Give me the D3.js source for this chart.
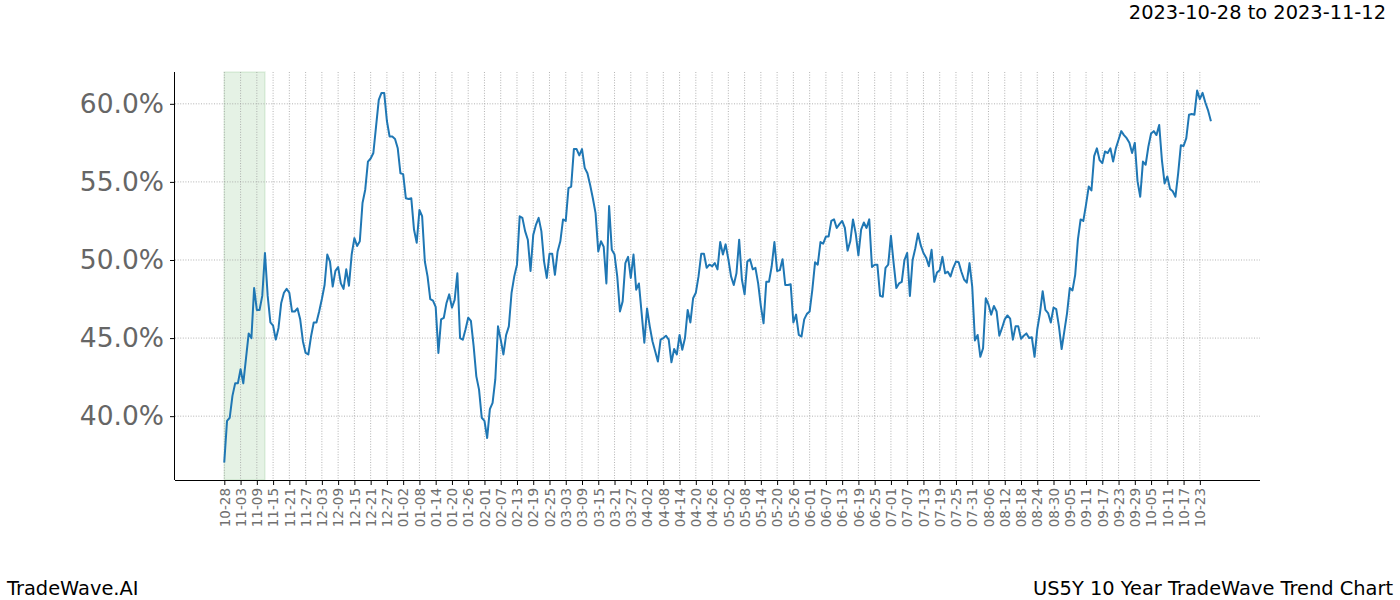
<!DOCTYPE html>
<html>
<head>
<meta charset="utf-8">
<script src="https://cdn.jsdelivr.net/npm/d3@7"></script>
<style>
  html, body { margin: 0; padding: 0; background: #fff; }
  svg { display: block; font-family: "DejaVu Sans", sans-serif; }
</style>
</head>
<body>
<svg id="chart" width="1400" height="600"></svg>
<script>
// ---- data ----
const startDate = "2022-10-28";
const values = [
  37.1, 39.7, 39.9, 41.3, 42.1, 42.1, 43.0, 42.1, 43.7, 45.3,
  45.0, 48.2, 46.8, 46.8, 47.7, 50.45, 47.7, 46.0, 45.8, 44.9,
  45.65, 47.25, 47.9, 48.15, 47.9, 46.7, 46.7, 46.9, 46.2, 44.8,
  44.05, 43.95, 45.1, 46.0, 46.0, 46.7, 47.5, 48.4, 50.35, 49.9,
  48.3, 49.3, 49.55, 48.5, 48.15, 49.4, 48.35, 50.35, 51.4, 50.9,
  51.2, 53.65, 54.5, 56.3, 56.5, 56.85, 58.55, 60.25, 60.7, 60.7,
  58.9, 57.9, 57.9, 57.75, 57.15, 55.55, 55.5, 53.95, 53.9, 53.95,
  51.95, 51.1, 53.2, 52.8, 49.9, 48.95, 47.5, 47.4, 47.0, 44.05,
  46.2, 46.3, 47.25, 47.8, 46.95, 47.45, 49.15, 45.0, 44.9, 45.55,
  46.3, 46.1, 44.5, 42.55, 41.7, 39.9, 39.7, 38.6, 40.45, 40.85,
  42.35, 45.75, 44.9, 43.95, 45.2, 45.75, 47.9, 48.95, 49.7, 52.8,
  52.7, 51.85, 51.3, 49.3, 51.6, 52.25, 52.7, 51.85, 49.9, 48.85,
  50.4, 50.4, 49.05, 50.55, 51.2, 52.6, 52.5, 54.6, 54.7, 57.1,
  57.1, 56.7, 57.1, 55.9, 55.55, 54.8, 53.95, 53.0, 50.55, 51.2,
  50.85, 48.5, 53.45, 50.65, 50.35, 48.95, 46.7, 47.35, 49.8, 50.2,
  48.85, 50.35, 48.1, 48.5, 46.6, 44.7, 46.9, 45.75, 44.8, 44.15,
  43.5, 44.9, 45.0, 45.15, 44.9, 43.45, 44.3, 43.95, 45.2, 44.25,
  45.0, 46.8, 46.0, 47.55, 47.9, 48.95, 50.4, 50.4, 49.5, 49.7,
  49.6, 49.8, 49.4, 51.15, 50.35, 51.0, 50.05, 48.95, 48.4, 49.15,
  51.3, 48.75, 47.8, 49.9, 50.05, 49.4, 49.5, 48.5, 47.05, 45.95,
  48.6, 48.6, 49.6, 51.15, 49.3, 49.35, 50.05, 48.4, 48.4, 48.45,
  46.0, 46.5, 45.2, 45.1, 46.2, 46.55, 46.7, 48.1, 49.85, 49.7,
  51.15, 51.05, 51.5, 51.5, 52.5, 52.6, 52.05, 52.3, 52.5, 52.05,
  50.6, 51.2, 52.6, 51.7, 50.3, 51.95, 52.4, 52.05, 52.6, 49.55,
  49.7, 49.7, 47.7, 47.65, 49.5, 49.7, 51.55, 49.8, 48.2, 48.5,
  48.6, 50.0, 50.45, 47.7, 50.0, 50.75, 51.7, 50.95, 50.45, 50.15,
  49.6, 50.65, 48.6, 49.2, 49.35, 50.2, 49.15, 49.25, 48.95, 49.5,
  49.9, 49.85, 49.25, 48.75, 48.55, 49.8, 48.3, 44.85, 45.2, 43.8,
  44.35, 47.55, 47.15, 46.5, 47.05, 46.7, 45.15, 45.65, 46.2, 46.45,
  46.25, 44.9, 45.75, 45.75, 44.95, 45.15, 45.3, 45.0, 45.05, 43.8,
  45.55, 46.6, 48.0, 46.8, 46.6, 46.0, 46.95, 46.85, 45.75, 44.3,
  45.45, 46.6, 48.2, 48.05, 49.05, 51.3, 52.6, 52.5, 53.55, 54.7,
  54.45, 56.65, 57.15, 56.4, 56.2, 56.95, 56.85, 57.15, 56.3, 57.15,
  57.7, 58.25, 58.0, 57.8, 57.5, 56.85, 57.5, 55.05, 54.05, 56.3,
  56.1, 57.25, 58.1, 58.25, 58.0, 58.65, 56.4, 54.9, 55.35, 54.55,
  54.4, 54.05, 55.55, 57.35, 57.3, 57.8, 59.3, 59.35, 59.3, 60.85,
  60.3, 60.7, 60.1, 59.6, 58.95
];
const tickLabels = [
  "10-28","11-03","11-09","11-15","11-21","11-27","12-03","12-09","12-15","12-21",
  "12-27","01-02","01-08","01-14","01-20","01-26","02-01","02-07","02-13","02-19",
  "02-25","03-03","03-09","03-15","03-21","03-27","04-02","04-08","04-14","04-20",
  "04-26","05-02","05-08","05-14","05-20","05-26","06-01","06-07","06-13","06-19",
  "06-25","07-01","07-07","07-13","07-19","07-25","07-31","08-06","08-12","08-18",
  "08-24","08-30","09-05","09-11","09-17","09-23","09-29","10-05","10-11","10-17",
  "10-23"
];
const yTicks = [40, 45, 50, 55, 60];
const spanStart = "2022-10-28";
const spanEnd = "2022-11-12";
const titleText = "2023-10-28 to 2023-11-12";
const leftFooter = "TradeWave.AI";
const rightFooter = "US5Y 10 Year TradeWave Trend Chart";

// ---- layout ----
const plot = { left: 175, right: 1260, top: 72, bottom: 480 };
const parse = d3.utcParse("%Y-%m-%d");
const t0 = parse(startDate);
const data = values.map((v, i) => ({ date: d3.utcDay.offset(t0, i), value: v }));
const tickDates = tickLabels.map((_, i) => d3.utcDay.offset(t0, 6 * i));

const svg = d3.select("#chart");

// x scale with matplotlib-like 5% margins
const xExt = d3.extent(data, d => d.date);
const xSpan = xExt[1] - xExt[0];
const x = d3.scaleUtc()
  .domain([new Date(+xExt[0] - 0.05 * xSpan), new Date(+xExt[1] + 0.05 * xSpan)])
  .range([plot.left, plot.right]);

const yExt = d3.extent(data, d => d.value);
const ySpan = yExt[1] - yExt[0];
const y = d3.scaleLinear()
  .domain([yExt[0] - 0.05 * ySpan, yExt[1] + 0.05 * ySpan])
  .range([plot.bottom, plot.top]);

// shaded span
svg.append("rect")
  .attr("x", x(parse(spanStart)))
  .attr("y", plot.top)
  .attr("width", x(parse(spanEnd)) - x(parse(spanStart)))
  .attr("height", plot.bottom - plot.top)
  .attr("fill", "rgba(0,128,0,0.1)")
  .attr("stroke", "rgba(0,128,0,0.1)")
  .attr("stroke-width", 1.5);

// grid
const grid = svg.append("g");
grid.selectAll("line.gx").data(tickDates).join("line")
  .attr("class", "gx")
  .attr("x1", d => x(d)).attr("x2", d => x(d))
  .attr("y1", plot.top).attr("y2", plot.bottom)
  .attr("stroke", "#a0a0a0").attr("stroke-width", 0.8)
  .attr("stroke-dasharray", "1,1.6");
grid.selectAll("line.gy").data(yTicks).join("line")
  .attr("class", "gy")
  .attr("x1", plot.left).attr("x2", plot.right)
  .attr("y1", d => y(d)).attr("y2", d => y(d))
  .attr("stroke", "#a0a0a0").attr("stroke-width", 0.8)
  .attr("stroke-dasharray", "1,1.6");

// line
const line = d3.line().x(d => x(d.date)).y(d => y(d.value));
svg.append("path")
  .datum(data)
  .attr("d", line)
  .attr("fill", "none")
  .attr("stroke", "#1f77b4")
  .attr("stroke-width", 2)
  .attr("stroke-linejoin", "round")
  .attr("stroke-linecap", "square");

// x axis
const xAxis = d3.axisBottom(x)
  .tickValues(tickDates)
  .tickFormat((d, i) => tickLabels[i])
  .tickSize(5)
  .tickPadding(3);
const gx = svg.append("g")
  .attr("transform", `translate(0,${plot.bottom})`)
  .call(xAxis);
gx.select(".domain").attr("d", `M${plot.left},0.5H${plot.right}`).attr("stroke", "#000").attr("stroke-width", 1);
gx.selectAll(".tick line").attr("stroke", "#000");
gx.selectAll(".tick text")
  .attr("fill", "#707070")
  .style("font-size", "13.5px")
  .style("font-family", "DejaVu Sans")
  .attr("text-anchor", "end")
  .attr("dy", "0.35em")
  .attr("x", 0)
  .attr("y", 0)
  .attr("transform", "translate(0,8) rotate(-90)");

// y axis
const yAxis = d3.axisLeft(y)
  .tickValues(yTicks)
  .tickFormat(d => d3.format(".1f")(d) + "%")
  .tickSize(5)
  .tickPadding(6);
const gy = svg.append("g")
  .attr("transform", `translate(${plot.left},0)`)
  .call(yAxis);
gy.select(".domain").attr("d", `M-0.5,${plot.top}V${plot.bottom}`).attr("stroke", "#000").attr("stroke-width", 1);
gy.selectAll(".tick line").attr("stroke", "#000");
gy.selectAll(".tick text")
  .attr("fill", "#666")
  .style("font-size", "26.5px")
  .style("font-family", "DejaVu Sans");

// texts
svg.append("text")
  .attr("x", 1386).attr("y", 19)
  .attr("text-anchor", "end")
  .style("font-size", "19.4px")
  .attr("fill", "#000")
  .text(titleText);
svg.append("text")
  .attr("x", 7).attr("y", 595)
  .style("font-size", "19.4px")
  .attr("fill", "#000")
  .text(leftFooter);
svg.append("text")
  .attr("x", 1393).attr("y", 595)
  .attr("text-anchor", "end")
  .style("font-size", "19.4px")
  .attr("fill", "#000")
  .text(rightFooter);
</script>
</body>
</html>
